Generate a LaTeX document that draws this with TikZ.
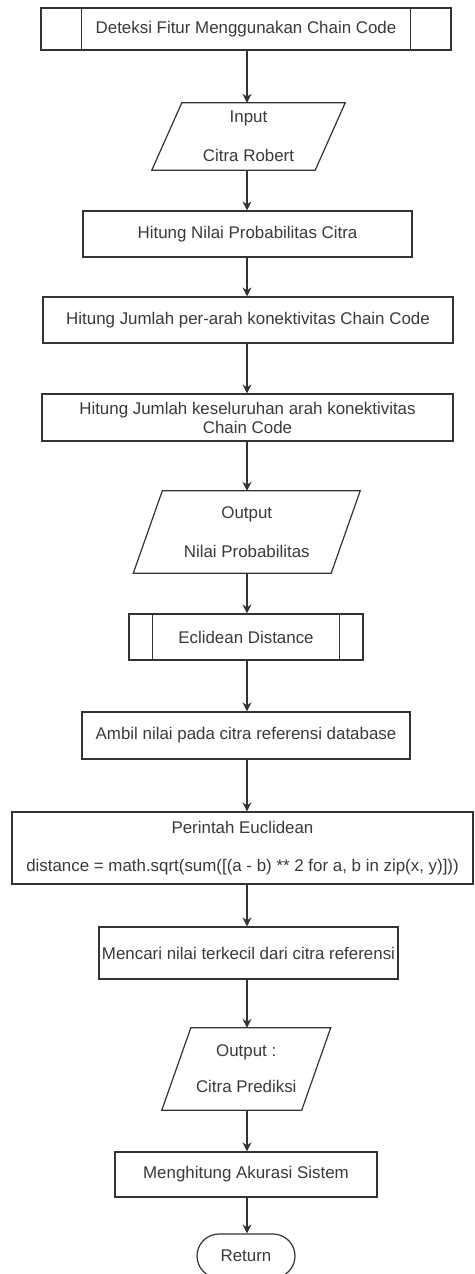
\documentclass[tikz,border=0pt]{standalone}
\usepackage{fontspec}
\setmainfont{Liberation Sans}
\usetikzlibrary{arrows.meta}
\definecolor{ln}{HTML}{333333}
\definecolor{tx}{HTML}{3A3A3A}
\tikzset{
  x=1pt, y=-1pt,
  base/.style={font=\fontsize{16.9}{19}\selectfont, text=tx, inner sep=0pt, align=center},
  procbox/.style={base, draw=ln, line width=1.2pt, rectangle},
  predef/.style={procbox},
  iobox/.style={base, draw=none, rectangle},
  term/.style={base, draw=ln, line width=1.2pt, rounded corners=22pt},
  flow/.style={draw=ln, line width=1.2pt, -{Stealth[length=9pt,width=9pt]}},
  edge/.style={draw=ln, line width=1.2pt},
}
\begin{document}
\begin{tikzpicture}
\useasboundingbox (0,0) rectangle (474,1274);
\fill[white] (0,0) rectangle (474,1274);

% nodes
\node[predef, minimum width=410pt, minimum height=42pt] (start) at (246,29) {Deteksi Fitur Menggunakan Chain Code};
\draw[edge] ([xshift=41pt]start.north west) -- ([xshift=41pt]start.south west);
\draw[edge] ([xshift=-41pt]start.north east) -- ([xshift=-41pt]start.south east);

\node[iobox, minimum width=163pt, minimum height=67pt] (input) at (248.5,136.5) {Input\\[20pt]Citra Robert};
\draw[edge] ([xshift=15pt]input.north west) -- ([xshift=15pt]input.north east) -- ([xshift=-15pt]input.south east) -- ([xshift=-15pt]input.south west) -- cycle;

\node[procbox, minimum width=329pt, minimum height=46pt] (nilai) at (247.5,234) {Hitung Nilai Probabilitas Citra};
\node[procbox, minimum width=410pt, minimum height=46pt] (perarah) at (248,320) {Hitung Jumlah per-arah konektivitas Chain Code};
\node[procbox, minimum width=411pt, minimum height=47pt] (total) at (247.5,417.5) {Hitung Jumlah keseluruhan arah konektivitas\\Chain Code};

\node[iobox, minimum width=197.5pt, minimum height=82pt] (out1) at (246.75,532) {Output\\[20pt]Nilai Probabilitas};
\draw[edge] ([xshift=14.5pt]out1.north west) -- ([xshift=14.5pt]out1.north east) -- ([xshift=-14.5pt]out1.south east) -- ([xshift=-14.5pt]out1.south west) -- cycle;

\node[predef, minimum width=234pt, minimum height=46pt] (ecl) at (246,637) {Eclidean Distance};
\draw[edge] ([xshift=24pt]ecl.north west) -- ([xshift=24pt]ecl.south west);
\draw[edge] ([xshift=-24pt]ecl.north east) -- ([xshift=-24pt]ecl.south east);

\node[procbox, minimum width=328pt, minimum height=47pt] (ambil) at (246,735.5) {Ambil nilai pada citra referensi database};
\node[procbox, minimum width=461pt, minimum height=72pt] (perintah) at (242.5,848) {Perintah Euclidean\\[19pt]distance = math.sqrt(sum([(a - b) ** 2 for a, b in zip(x, y)]))};
\node[procbox, minimum width=299pt, minimum height=52pt] (cari) at (248.5,953) {Mencari nilai terkecil dari citra referensi};

\node[iobox, minimum width=139.5pt, minimum height=82pt] (out2) at (246.25,1069) {Output :\\[17pt]Citra Prediksi};
\draw[edge] ([xshift=14.5pt]out2.north west) -- ([xshift=14.5pt]out2.north east) -- ([xshift=-14.5pt]out2.south east) -- ([xshift=-14.5pt]out2.south west) -- cycle;

\node[procbox, minimum width=262pt, minimum height=45pt] (akurasi) at (246,1174.5) {Menghitung Akurasi Sistem};
\node[term, minimum width=98pt, minimum height=44pt] (ret) at (246,1256) {Return};

% connectors
\draw[flow] (start.south -| 247,0) -- (input.north -| 247,0);
\draw[flow] (input.south -| 247,0) -- (nilai.north -| 247,0);
\draw[flow] (nilai.south -| 247,0) -- (perarah.north -| 247,0);
\draw[flow] (perarah.south -| 247,0) -- (total.north -| 247,0);
\draw[flow] (total.south -| 247,0) -- (out1.north -| 247,0);
\draw[flow] (out1.south -| 247,0) -- (ecl.north -| 247,0);
\draw[flow] (ecl.south -| 247,0) -- (ambil.north -| 247,0);
\draw[flow] (ambil.south -| 247,0) -- (perintah.north -| 247,0);
\draw[flow] (perintah.south -| 247,0) -- (cari.north -| 247,0);
\draw[flow] (cari.south -| 247,0) -- (out2.north -| 247,0);
\draw[flow] (out2.south -| 247,0) -- (akurasi.north -| 247,0);
\draw[flow] (akurasi.south -| 247,0) -- (ret.north -| 247,0);
\end{tikzpicture}
\end{document}
